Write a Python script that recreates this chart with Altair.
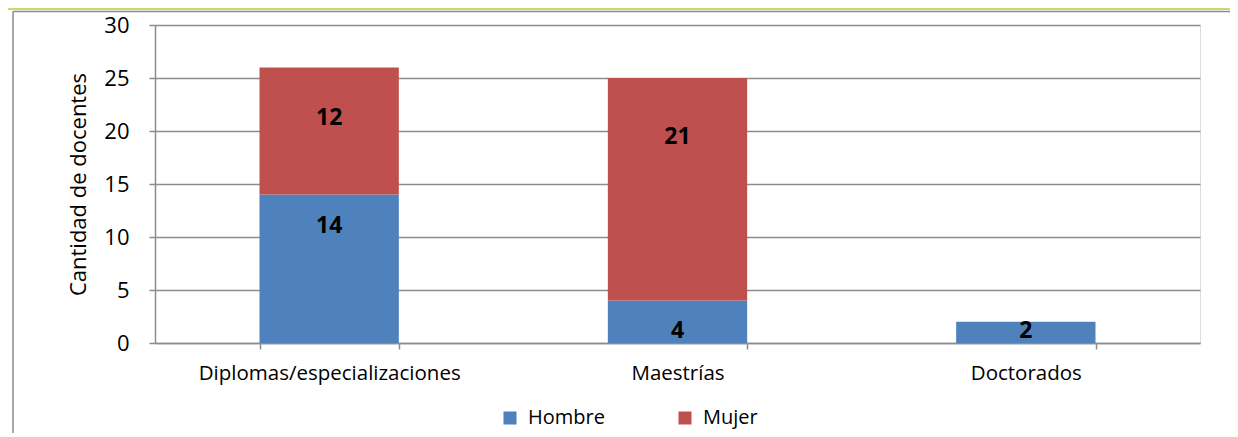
import altair as alt
import pandas as pd

categories = ["Diplomas/especializaciones", "Maestrías", "Doctorados"]
series = ["Hombre", "Mujer"]
hombre = [14, 4, 2]
mujer = [12, 21, 0]
# label anchor values (in data units)
label_pos_hombre = [11.0, 1.1, 1.1]
label_pos_mujer = [21.2, 19.4, 0]
colors = ["#4f81bd", "#c0504d"]
y_ticks = [0, 5, 10, 15, 20, 25, 30]

rows = []
for i, c in enumerate(categories):
    rows.append({"cat": c, "serie": series[0], "val": hombre[i], "ord": 0, "lab": label_pos_hombre[i]})
    rows.append({"cat": c, "serie": series[1], "val": mujer[i], "ord": 1, "lab": label_pos_mujer[i]})
df = pd.DataFrame(rows)

FONT = "Open Sans"
GRAY = "#8c8c8c"
W, H = 1045, 318

x_enc = alt.X(
    "cat:N", sort=categories, title=None,
    scale=alt.Scale(paddingInner=0.6, paddingOuter=0.3),
    axis=alt.Axis(labelAngle=0, labelFontSize=20.5, labelColor="black", labelFont=FONT,
                  labelLimit=0, domainColor=GRAY, domainWidth=1.5, tickColor=GRAY, tickWidth=1.5,
                  tickSize=6, tickBand="extent", labelPadding=14, grid=False),
)
y_axis = alt.Axis(values=y_ticks, grid=True, gridColor=GRAY, gridWidth=1.5,
                  domainColor=GRAY, domainWidth=1.5, tickColor=GRAY, tickWidth=1.5, tickSize=6,
                  labelFontSize=22, labelColor="black", labelFont=FONT, labelPadding=20,
                  title="Cantidad de docentes", titleFontSize=22, titleFontWeight="normal",
                  titleColor="black", titleFont=FONT, titlePadding=13)

bars = alt.Chart(df).mark_bar().encode(
    x=x_enc,
    y=alt.Y("val:Q", stack="zero", scale=alt.Scale(domain=[0, 30], nice=False), axis=y_axis),
    color=alt.Color("serie:N", scale=alt.Scale(domain=series, range=colors),
                    legend=alt.Legend(orient="none", legendX=345, legendY=383, direction="horizontal",
                                      title=None, symbolType="square", symbolSize=169,
                                      symbolStrokeWidth=0, labelFontSize=20, labelFont=FONT,
                                      labelColor="black", labelOffset=8, columnPadding=70)),
    order=alt.Order("ord:Q", sort="ascending"),
)

labels = alt.Chart(df).transform_filter("datum.val > 0").mark_text(
    fontWeight="bold", fontSize=23, color="black", baseline="middle", font=FONT
).encode(
    x=alt.X("cat:N", sort=categories),
    y=alt.Y("lab:Q", axis=y_axis),
    text="val:Q",
)

frame_df = pd.DataFrame({"k": [0]})
green = alt.Chart(frame_df).mark_rule(color="#c6dc6e", strokeWidth=2).encode(
    x=alt.value(-155), x2=alt.value(W + 40), y=alt.value(-16))
top_line = alt.Chart(frame_df).mark_rule(color=GRAY, strokeWidth=1.5).encode(
    x=alt.value(-142), x2=alt.value(W + 40), y=alt.value(-13.5))
left_line = alt.Chart(frame_df).mark_rule(color=GRAY, strokeWidth=1.5).encode(
    x=alt.value(-142), y=alt.value(-13.5), y2=alt.value(H + 95))

chart = alt.layer(bars, labels, green, top_line, left_line).properties(
    width=W, height=H,
    padding={"left": 147, "top": 17, "right": 30, "bottom": 90},
    autosize=alt.AutoSizeParams(type="none"),
).configure_view(stroke=None).configure(font=FONT)

chart.save("out.html", embed_options={"renderer": "svg", "actions": False})
